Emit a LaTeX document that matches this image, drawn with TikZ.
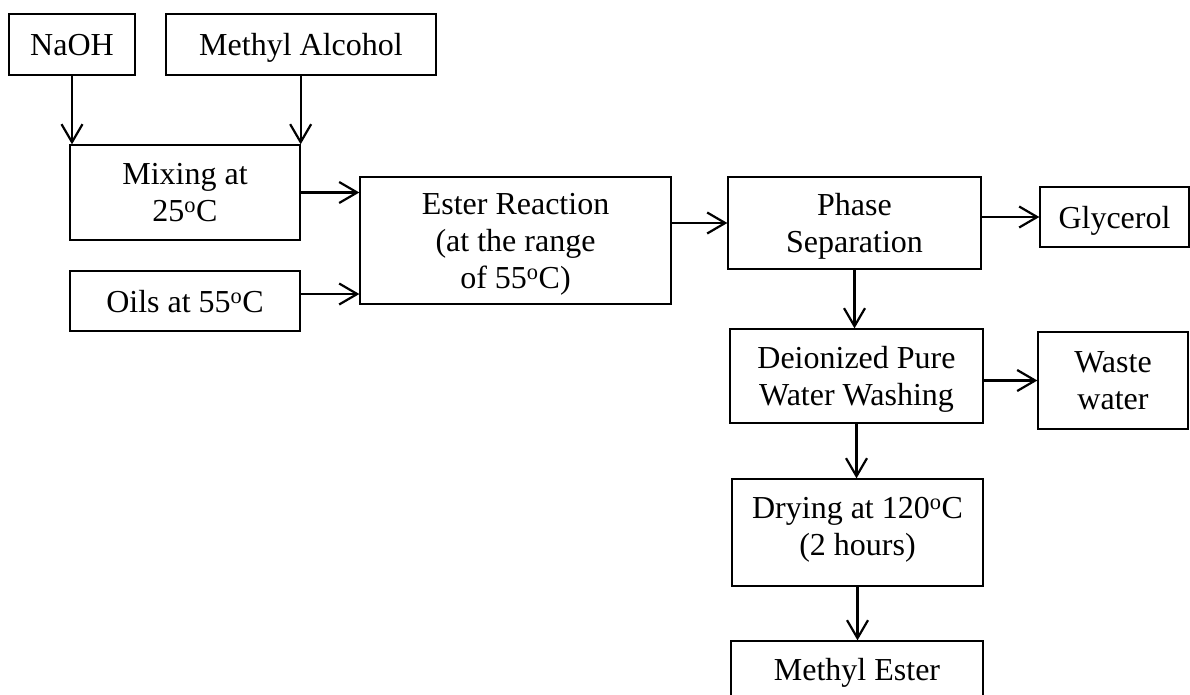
\documentclass[tikz,border=0pt]{standalone}
\usepackage{fontspec}
\setmainfont{Liberation Serif}
\usetikzlibrary{arrows.meta}
\tikzset{
  box/.style={draw, line width=1.3pt, inner sep=0pt, align=center,
    font=\fontsize{32}{37}\selectfont, text depth=0pt},
  arr/.style={line width=2.2pt, -{Straight Barb[length=18pt,width=21pt,line width=2.2pt]}}
}
\newcommand{\dg}{\textsuperscript{o}}
\begin{document}
\begin{tikzpicture}[x=1pt,y=-1pt]
\useasboundingbox (0,0) rectangle (1190,695);
\node[box, minimum width=126pt, minimum height=61pt] (na) at (72,44.5) {NaOH};
\node[box, minimum width=270pt, minimum height=61pt] (ma) at (301,44.5) {Methyl Alcohol};
\node[box, minimum width=230pt, minimum height=95pt] (mix) at (185,192.5) {Mixing at\\25\dg C};
\node[box, minimum width=230pt, minimum height=60pt] (oil) at (185,301) {Oils at 55\dg C};
\node[box, minimum width=311pt, minimum height=127pt] (est) at (515.5,240.5) {Ester Reaction\\(at the range\\of 55\dg C)};
\node[box, minimum width=253pt, minimum height=92pt] (ph) at (854.5,223) {Phase\\Separation};
\node[box, minimum width=149pt, minimum height=60pt] (gly) at (1114.5,217) {Glycerol};
\node[box, minimum width=253pt, minimum height=94pt] (dei) at (856.5,376) {Deionized Pure\\Water Washing};
\node[box, minimum width=150pt, minimum height=97pt] (ww) at (1113,380.5) {Waste\\water};
\node[box, minimum width=251pt, minimum height=107pt, text depth=13pt] (dry) at (857.5,532.5) {Drying at 120\dg C\\(2 hours)};
\node[box, minimum width=252pt, minimum height=56pt] (me) at (857,669) {Methyl Ester};

\draw[arr] (na.south) -- (na.south |- mix.north);
\draw[arr] (ma.south -| mix.north east) -- (mix.north east);
\draw[arr] (mix.east) -- (mix.east -| est.west);
\draw[arr] ([yshift=7pt]oil.east) -- ([yshift=7pt]oil.east -| est.west);
\draw[arr] (ph.west -| est.east) -- (ph.west);
\draw[arr] (ph.east |- gly.west) -- (gly.west);
\draw[arr] (ph.south) -- (ph.south |- dei.north);
\draw[arr] (dei.east |- ww.west) -- (ww.west);
\draw[arr] (dei.south) -- (dei.south |- dry.north);
\draw[arr] (dry.south) -- (dry.south |- me.north);
\end{tikzpicture}
\end{document}
